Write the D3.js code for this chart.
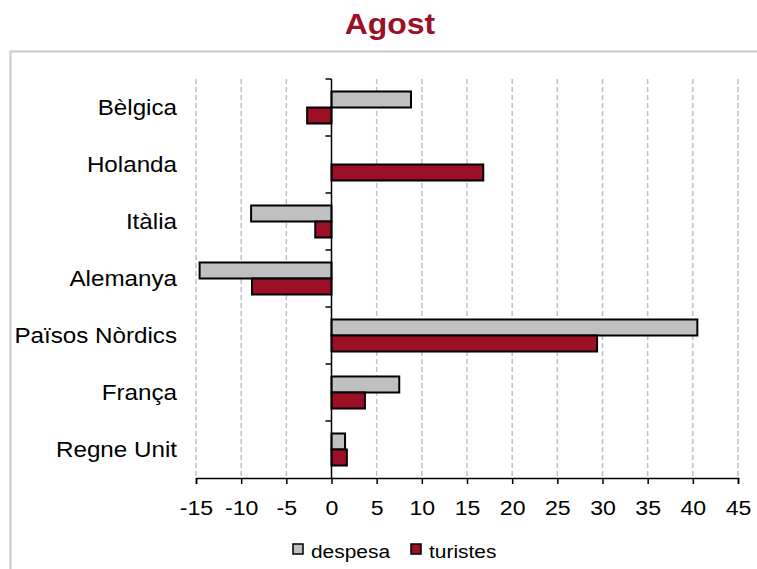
<!DOCTYPE html>
<html>
<head>
<meta charset="utf-8">
<script src="https://cdn.jsdelivr.net/npm/d3@7"></script>
<style>
  body { margin: 0; background: #fff; }
  svg text { font-family: "Liberation Sans", Arial, sans-serif; }
</style>
</head>
<body>
<div id="vis"></div>
<script>
// data
const categories = ["Bèlgica", "Holanda", "Itàlia", "Alemanya", "Països Nòrdics", "França", "Regne Unit"];
const despesa = [8.8, 0, -8.9, -14.6, 40.5, 7.5, 1.5];
const turistes = [-2.7, 16.8, -1.8, -8.8, 29.4, 3.7, 1.7];
const xTicks = [-15, -10, -5, 0, 5, 10, 15, 20, 25, 30, 35, 40, 45];
const seriesNames = ["despesa", "turistes"];

const options = {
  width: 757,
  height: 569,
  margin: { top: 79, right: 19, bottom: 91, left: 196 },
  colors: ["#c0c0c0", "#9b1027"],
  title: "Agost",
  stretch: 1.1, // the original text is drawn a bit wide
};

const width = options.width - options.margin.left - options.margin.right;
const height = options.height - options.margin.top - options.margin.bottom;

// place a text at (x, y) with horizontal stretch
const place = (x, y) => `translate(${x},${y}) scale(${options.stretch},1)`;

const svg = d3.select("#vis")
  .append("svg")
  .attr("width", options.width)
  .attr("height", options.height);

// outer frame
svg.append("rect")
  .attr("x", 10.5).attr("y", 51.5)
  .attr("width", options.width).attr("height", options.height)
  .attr("fill", "none").attr("stroke", "#c8c8c8").attr("stroke-width", 2);

svg.append("text")
  .attr("transform", place(390, 34))
  .attr("text-anchor", "middle")
  .attr("font-size", 29).attr("font-weight", "bold")
  .attr("fill", options.colors[1])
  .text(options.title);

const g = svg.append("g")
  .attr("transform", `translate(${options.margin.left},${options.margin.top})`);

////////////// Scales //////////////
const x = d3.scaleLinear().domain([-15, 45]).range([0, width]);
const y = d3.scaleBand().domain(categories).range([0, height]);
const inner = d3.scaleBand().domain(seriesNames).range([0, y.bandwidth()]).paddingOuter(0.78).paddingInner(0);

// gridlines
g.selectAll(".grid")
  .data(xTicks.filter(d => d !== 0))
  .join("line")
  .attr("x1", d => x(d)).attr("x2", d => x(d))
  .attr("y1", 0).attr("y2", height)
  .attr("stroke", "#c0c0c0").attr("stroke-width", 1.5)
  .attr("stroke-dasharray", "5,3");

////////////// Bars //////////////
const rows = categories.map((c, i) => ({ c, values: [despesa[i], turistes[i]] }));

g.selectAll(".row")
  .data(rows)
  .join("g")
  .attr("transform", d => `translate(0,${y(d.c)})`)
  .selectAll("rect")
  .data(d => d.values.map((v, k) => ({ v, k })))
  .join("rect")
  .attr("x", d => x(Math.min(0, d.v)))
  .attr("width", d => Math.abs(x(d.v) - x(0)))
  .attr("y", d => inner(seriesNames[d.k]))
  .attr("height", inner.bandwidth())
  .attr("fill", d => options.colors[d.k])
  .attr("stroke", "#000").attr("stroke-width", 2)
  .attr("display", d => d.v === 0 ? "none" : null);

////////////// Axes //////////////
const xAxis = g.append("g")
  .attr("transform", `translate(0,${height})`)
  .call(d3.axisBottom(x).tickValues(xTicks).tickFormat(d => String(d))
    .tickSize(6).tickSizeOuter(6).tickPadding(10));
xAxis.select(".domain").attr("stroke-width", 1.5);
xAxis.selectAll(".tick line").attr("stroke-width", 1.5);
xAxis.selectAll(".tick text")
  .attr("font-size", 21).attr("fill", "#000")
  .attr("y", null).attr("dy", null)
  .attr("transform", place(0, 37))
  .style("font-family", "Liberation Sans, Arial, sans-serif");

// vertical axis at zero with ticks on category boundaries
const yAxis = g.append("g").attr("transform", `translate(${x(0)},0)`);
yAxis.append("line")
  .attr("y1", 0).attr("y2", height)
  .attr("stroke", "#000").attr("stroke-width", 1.5);
yAxis.selectAll(".ytick")
  .data(categories)
  .join("line")
  .attr("x1", -6).attr("x2", 0)
  .attr("y1", d => y(d)).attr("y2", d => y(d))
  .attr("stroke", "#000").attr("stroke-width", 1.5);

// category labels
g.selectAll(".cat")
  .data(categories)
  .join("text")
  .attr("transform", d => place(-19, y(d) + y.bandwidth() / 2))
  .attr("dy", "0.35em")
  .attr("text-anchor", "end")
  .attr("font-size", 22)
  .text(d => d);

////////////// Legend //////////////
const legend = svg.append("g").attr("transform", "translate(293,551)");
const legendX = [0, 118];
seriesNames.forEach((s, i) => {
  const lg = legend.append("g").attr("transform", `translate(${legendX[i]},0)`);
  lg.append("rect")
    .attr("x", 0).attr("y", -7).attr("width", 10).attr("height", 10)
    .attr("fill", options.colors[i]).attr("stroke", "#000").attr("stroke-width", 1.5);
  lg.append("text")
    .attr("transform", place(18, 0))
    .attr("dy", "0.35em")
    .attr("font-size", 19)
    .text(s);
});
</script>
</body>
</html>
